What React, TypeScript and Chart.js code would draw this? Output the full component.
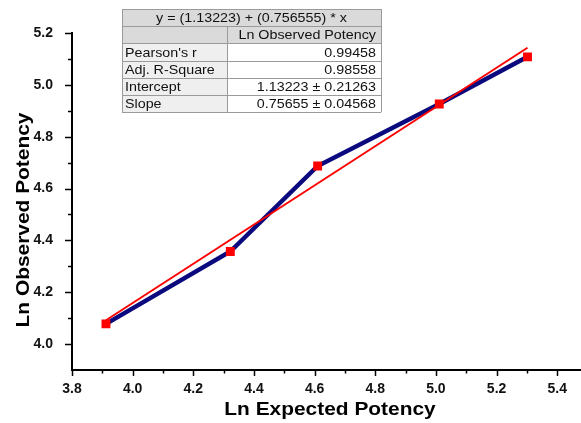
import React, { useEffect, useRef } from "react";
import { Chart, registerables } from "chart.js";

Chart.register(...registerables);

// ---- data ----
const EXPECTED = [3.912, 4.322, 4.61, 5.011, 5.302];
const OBSERVED = [4.078, 4.357, 4.687, 4.926, 5.108];
const FIT_X = [3.912, 5.302];
const FIT_Y = [4.092, 5.143];

const X_TICKS = [3.8, 4.0, 4.2, 4.4, 4.6, 4.8, 5.0, 5.2, 5.4];
const X_MINOR = [3.9, 4.1, 4.3, 4.5, 4.7, 4.9, 5.1, 5.3];
const Y_TICKS = [4.0, 4.2, 4.4, 4.6, 4.8, 5.0, 5.2];
const Y_MINOR = [4.1, 4.3, 4.5, 4.7, 4.9, 5.1];

const X_TITLE = "Ln Expected Potency";
const Y_TITLE = "Ln Observed Potency";

const TABLE_EQUATION = "y = (1.13223) + (0.756555) * x";
const TABLE_HEADER = "Ln Observed Potency";
const TABLE_LABELS = ["Pearson's r", "Adj. R-Square", "Intercept", "Slope"];
const TABLE_VALUES = ["0.99458", "0.98558", "1.13223 \u00b1 0.21263", "0.75655 \u00b1 0.04568"];

const FONT = "'Liberation Sans', Arial, sans-serif";

// draw text stretched horizontally (in the current frame)
function wideText(ctx: CanvasRenderingContext2D, s: string, x: number, y: number, sx: number) {
  ctx.save();
  ctx.translate(x, y);
  ctx.scale(sx, 1);
  ctx.fillText(s, 0, 0);
  ctx.restore();
}

const decorPlugin = {
  id: "decor",
  afterDraw(chart: any) {
    const { ctx, chartArea, scales } = chart;
    const xs = scales.x;
    const ys = scales.y;
    ctx.save();
    // extend bottom axis line to the canvas edge
    ctx.fillStyle = "#000";
    const by = Math.round(chartArea.bottom);
    ctx.fillRect(chartArea.right - 2, by - 1, chart.width - chartArea.right + 2, 2);
    // tick marks
    ctx.strokeStyle = "#000";
    ctx.lineWidth = 1.5;
    const drawX = (v: number, len: number) => {
      const px = Math.round(xs.getPixelForValue(v)) + 0.5;
      ctx.beginPath();
      ctx.moveTo(px, chartArea.bottom);
      ctx.lineTo(px, chartArea.bottom + len);
      ctx.stroke();
    };
    const drawY = (v: number, len: number) => {
      const py = Math.round(ys.getPixelForValue(v)) + 0.5;
      ctx.beginPath();
      ctx.moveTo(chartArea.left, py);
      ctx.lineTo(chartArea.left - len, py);
      ctx.stroke();
    };
    X_TICKS.forEach((v) => drawX(v, 6));
    X_MINOR.forEach((v) => drawX(v, 3.5));
    Y_TICKS.forEach((v) => drawY(v, 7));
    Y_MINOR.forEach((v) => drawY(v, 4));

    // axis titles
    ctx.fillStyle = "#000";
    ctx.font = `bold 19px ${FONT}`;
    ctx.textAlign = "center";
    ctx.textBaseline = "middle";
    wideText(ctx, X_TITLE, 330, 410, 1.1);
    ctx.save();
    ctx.translate(24, 220);
    ctx.rotate(-Math.PI / 2);
    wideText(ctx, Y_TITLE, 0, 0, 1.1);
    ctx.restore();

    // stats table
    const x0 = 122, x1 = 381, xm = 227, y0 = 9, rh = 17.2;
    const nRows = 2 + TABLE_LABELS.length;
    ctx.fillStyle = "#DADADA";
    ctx.fillRect(x0, y0, x1 - x0, rh * 2);
    ctx.fillStyle = "#EFEFEF";
    ctx.fillRect(x0, y0 + rh * 2, xm - x0, rh * TABLE_LABELS.length);
    ctx.fillStyle = "#FFFFFF";
    ctx.fillRect(xm, y0 + rh * 2, x1 - xm, rh * TABLE_LABELS.length);
    ctx.strokeStyle = "#9A9A9A";
    ctx.lineWidth = 1;
    for (let i = 0; i <= nRows; i++) {
      const y = Math.round(y0 + i * rh) + 0.5;
      ctx.beginPath();
      ctx.moveTo(x0, y);
      ctx.lineTo(x1, y);
      ctx.stroke();
    }
    ctx.beginPath();
    ctx.moveTo(x0 + 0.5, y0);
    ctx.lineTo(x0 + 0.5, y0 + rh * nRows);
    ctx.moveTo(x1 + 0.5, y0);
    ctx.lineTo(x1 + 0.5, y0 + rh * nRows);
    ctx.moveTo(xm + 0.5, y0 + rh);
    ctx.lineTo(xm + 0.5, y0 + rh * nRows);
    ctx.stroke();

    ctx.fillStyle = "#111";
    ctx.font = `13px ${FONT}`;
    ctx.textBaseline = "middle";
    const sx = 1.1;
    const eqW = ctx.measureText(TABLE_EQUATION).width * sx;
    ctx.textAlign = "left";
    wideText(ctx, TABLE_EQUATION, (x0 + x1) / 2 - eqW / 2, y0 + rh * 0.5 + 1, sx);
    const hW = ctx.measureText(TABLE_HEADER).width * sx;
    wideText(ctx, TABLE_HEADER, x1 - 5 - hW, y0 + rh * 1.5 + 1, sx);
    TABLE_LABELS.forEach((lab, i) => {
      const yy = y0 + rh * (2.5 + i) + 1;
      wideText(ctx, lab, x0 + 3, yy, sx);
      const vW = ctx.measureText(TABLE_VALUES[i]).width * sx;
      wideText(ctx, TABLE_VALUES[i], x1 - 5 - vW, yy, sx);
    });
    ctx.restore();
  },
};

export default function App() {
  const ref = useRef<HTMLCanvasElement | null>(null);
  useEffect(() => {
    document.body.style.margin = "0";
    const canvas = ref.current;
    if (!canvas) return;
    const points = EXPECTED.map((x, i) => ({ x, y: OBSERVED[i] }));
    const fit = FIT_X.map((x, i) => ({ x, y: FIT_Y[i] }));
    const chart = new Chart(canvas, {
      type: "scatter",
      data: {
        datasets: [
          {
            label: "markers",
            data: points,
            showLine: false,
            pointStyle: "rect",
            pointRadius: 6.3,
            backgroundColor: "#FF0000",
            borderColor: "#FF0000",
            borderWidth: 0,
          },
          {
            label: "fit",
            data: fit,
            showLine: true,
            borderColor: "#FF0000",
            borderWidth: 2,
            pointRadius: 0,
            fill: false,
          },
          {
            label: "observed",
            data: points,
            showLine: true,
            borderColor: "#0A0A7E",
            borderWidth: 4.5,
            pointRadius: 0,
            fill: false,
          },
        ],
      },
      options: {
        animation: false,
        responsive: false,
        events: [],
        layout: { padding: { top: 33, right: 0, left: 0, bottom: 0 } },
        plugins: { legend: { display: false }, tooltip: { enabled: false } },
        scales: {
          x: {
            type: "linear",
            min: 3.8,
            max: 5.4576,
            afterBuildTicks: (s: any) => {
              s.ticks = X_TICKS.map((v) => ({ value: v }));
            },
            afterFit: (s: any) => {
              s.height = 53;
            },
            grid: { display: false, drawTicks: false },
            border: { display: true, color: "#000", width: 2 },
            ticks: {
              padding: 11,
              color: "#111",
              font: { family: FONT, size: 14, weight: "bold" },
              maxRotation: 0,
              autoSkip: false,
              callback: (v: any) => Number(v).toFixed(1),
            },
          },
          y: {
            type: "linear",
            min: 3.9,
            max: 5.2,
            afterBuildTicks: (s: any) => {
              s.ticks = Y_TICKS.map((v) => ({ value: v }));
            },
            afterFit: (s: any) => {
              s.width = 72;
            },
            grid: { display: false, drawTicks: false },
            border: { display: true, color: "#000", width: 2 },
            ticks: {
              padding: 19,
              color: "#111",
              font: { family: FONT, size: 14, weight: "bold" },
              autoSkip: false,
              callback: (v: any) => Number(v).toFixed(1),
            },
          },
        },
      },
      plugins: [decorPlugin],
    });
    return () => chart.destroy();
  }, []);
  return <canvas ref={ref} width={581} height={423} style={{ display: "block" }} />;
}
